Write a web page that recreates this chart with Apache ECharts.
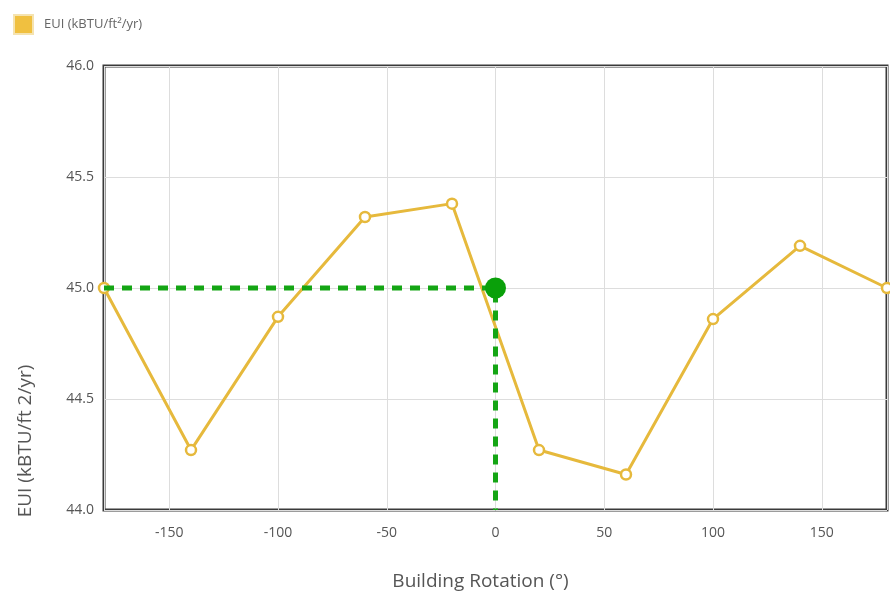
<!DOCTYPE html>
<html><head><meta charset="utf-8">
<script src="https://cdn.jsdelivr.net/npm/echarts@6/dist/echarts.min.js"></script>
<style>html,body{margin:0;padding:0;background:#fff}#c{width:890px;height:599px}</style>
</head><body><div id="c"></div>
<script>
const rotations = [-180, -140, -100, -60, -20, 20, 60, 100, 140, 180];
const euiValues = [45.0, 44.27, 44.87, 45.32, 45.38, 44.27, 44.16, 44.86, 45.19, 45.0];
const selectedPoint = [0, 45.0];
const guidePath = [[-180, 45.0], [0, 45.0], [0, 44.0]];
const xTicks = [-150, -100, -50, 0, 50, 100, 150];
const yTicks = [44.0, 44.5, 45.0, 45.5, 46.0];

const chart = echarts.init(document.getElementById('c'));
const font = 'Open Sans';
chart.setOption({
  animation: false,
  legend: {
    left: 8, top: 9,
    itemWidth: 19, itemHeight: 19, itemGap: 10,
    icon: 'rect',
    data: [{name: 'EUI (kBTU/ft²/yr)', itemStyle: {color: '#f0c040', borderColor: '#f5e3b0', borderWidth: 2}}],
    textStyle: {fontSize: 13, color: '#666', fontFamily: font, padding: [0, 0, 0, 6]}
  },
  grid: {left: 104, right: 3, top: 66, bottom: 89, show: true, borderColor: '#3a3a3a', borderWidth: 3},
  xAxis: {
    type: 'value', min: -180, max: 180,
    name: 'Building Rotation (°)', nameLocation: 'middle', nameGap: 62,
    nameTextStyle: {fontSize: 19, color: '#555', fontFamily: font, padding: [0, 30, 0, 0]},
    axisLine: {show: false}, axisTick: {show: false},
    axisLabel: {color: '#555', fontSize: 14, fontFamily: font, margin: 16,
      customValues: xTicks, formatter: v => String(v)},
    splitLine: {show: true, lineStyle: {color: '#ddd'}},
    splitNumber: 7
  },
  yAxis: {
    type: 'value', min: 44, max: 46, interval: 0.5,
    customValues: yTicks,
    axisLine: {show: false}, axisTick: {show: false},
    axisLabel: {color: '#555', fontSize: 14, fontFamily: font, margin: 10,
      formatter: v => v.toFixed(1)},
    splitLine: {show: true, lineStyle: {color: '#ddd'}}
  },
  graphic: [{
    type: 'text', x: 26, y: 441, rotation: Math.PI / 2,
    style: {text: 'EUI (kBTU/ft 2/yr)', fontSize: 19, fill: '#555', fontFamily: font,
      align: 'center', verticalAlign: 'middle'}
  }],
  series: [
    {
      name: 'EUI (kBTU/ft²/yr)', type: 'line',
      data: rotations.map((r, i) => [r, euiValues[i]]),
      lineStyle: {color: '#e6b93c', width: 3},
      itemStyle: {color: '#fff', borderColor: '#e6b93c', borderWidth: 2.5},
      symbol: 'circle', symbolSize: 10, z: 3
    },
    {
      name: 'guide', type: 'line', data: guidePath,
      lineStyle: {color: '#14a514', width: 5, type: [10, 8]},
      symbol: 'none', z: 4
    },
    {
      name: 'selected', type: 'scatter', data: [selectedPoint],
      symbolSize: 21, itemStyle: {color: '#0aa00a', opacity: 1}, z: 5
    }
  ]
});
</script></body></html>
